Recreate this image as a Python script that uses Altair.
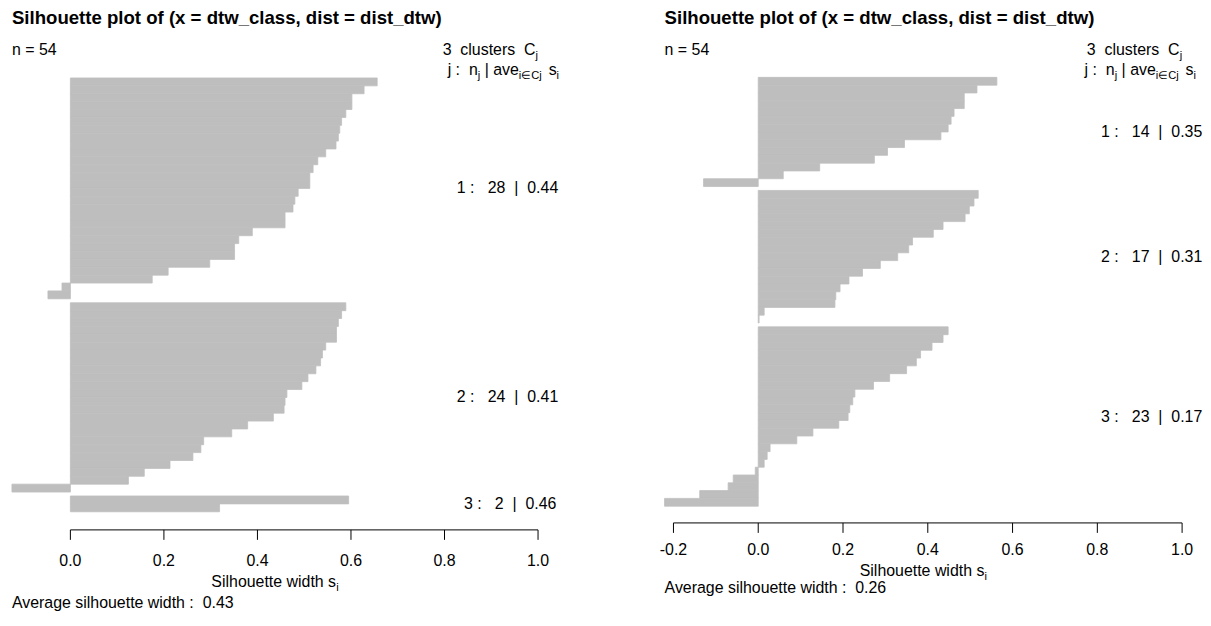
import altair as alt
import pandas as pd

# ---------------- data ----------------
title_text = "Silhouette plot of (x = dtw_class, dist = dist_dtw)"
n_total = 54

left_cluster1 = [0.656, 0.628, 0.602, 0.602, 0.589, 0.580, 0.576, 0.573, 0.568, 0.546,
                 0.529, 0.519, 0.512, 0.512, 0.487, 0.480, 0.476, 0.459, 0.459, 0.389,
                 0.360, 0.351, 0.351, 0.298, 0.209, 0.175, -0.018, -0.048]
left_cluster2 = [0.589, 0.580, 0.573, 0.569, 0.569, 0.546, 0.539, 0.535, 0.525, 0.508,
                 0.495, 0.463, 0.459, 0.457, 0.434, 0.379, 0.345, 0.285, 0.279, 0.262,
                 0.213, 0.158, 0.124, -0.125]
left_cluster3 = [0.595, 0.319]
left_cluster_avg = [0.44, 0.41, 0.46]
left_overall_avg = 0.43
left_x_ticks = [0.0, 0.2, 0.4, 0.6, 0.8, 1.0]

right_cluster1 = [0.563, 0.516, 0.486, 0.486, 0.462, 0.455, 0.448, 0.431, 0.345, 0.305,
                  0.274, 0.145, 0.059, -0.129]
right_cluster2 = [0.519, 0.509, 0.498, 0.488, 0.436, 0.413, 0.364, 0.355, 0.329, 0.288,
                  0.246, 0.214, 0.193, 0.183, 0.181, 0.014, 0.002]
right_cluster3 = [0.448, 0.436, 0.410, 0.383, 0.373, 0.350, 0.310, 0.272, 0.228, 0.223,
                  0.216, 0.212, 0.190, 0.129, 0.091, 0.028, 0.021, 0.014, -0.007, -0.059,
                  -0.071, -0.138, -0.221]
right_cluster_avg = [0.35, 0.31, 0.17]
right_overall_avg = 0.26
right_x_ticks = [-0.2, 0.0, 0.2, 0.4, 0.6, 0.8, 1.0]

# ---------------- styling / layout ----------------
FONT = "Liberation Sans"
BAR_COLOR = "#bebebe"
NB = "\u00a0"
BASE = 16.0
SUB = BASE * 0.7
TITLE_SIZE = 18.7

ARIAL = {" ": 278, NB: 278, ":": 278, "|": 260, ".": 278, "=": 584, "(": 333, ")": 333,
         "_": 556, ",": 278, "-": 333, "\u2208": 713, "A": 667, "C": 722, "S": 667,
         "a": 556, "b": 556, "c": 500, "d": 556, "e": 556, "f": 278, "g": 556, "h": 556,
         "i": 222, "j": 222, "k": 500, "l": 222, "m": 833, "n": 556, "o": 556, "p": 556,
         "q": 556, "r": 333, "s": 500, "t": 278, "u": 556, "v": 500, "w": 722, "x": 500,
         "y": 500, "z": 500}


def text_width(s, size):
    return sum(ARIAL.get(ch, 556) for ch in s) * size / 1000.0


def fmt2(v):
    return f"{v:.2f}"


def build_panel(clusters, cl_avgs, overall, ticks, geo):
    x0, W, zero, unit = geo["x0"], geo["W"], geo["zero"], geo["unit"]
    H, btop, bunit = geo["H"], geo["bar_top"], geo["bar_unit"]
    y0 = 8.0

    xscale = alt.Scale(domain=[(x0 - zero) / unit, (x0 + W - zero) / unit],
                       nice=False, zero=False)
    yscale = alt.Scale(domain=[(y0 - btop) / bunit, (y0 + H - btop) / bunit],
                       nice=False, zero=False, reverse=True)

    rows = []
    k = 0
    centers = []
    for c, vals in enumerate(clusters):
        us = []
        for v in vals:
            u0 = k + 0.5 * c
            rows.append({"s": v, "zero": 0.0, "u0": u0, "u1": u0 + 1.0})
            us.append(u0 + 0.5)
            k += 1
        centers.append(sum(us) / len(us))
    bars_df = pd.DataFrame(rows)
    all_vals = [v for vals in clusters for v in vals]
    smin = min(0.0, min(all_vals))

    def px(v):
        return zero + unit * v

    plot_left = px(smin)
    plot_right = px(1.0)

    def txt(s, xp, yp, size=BASE, bold=False, align="left", baseline="alphabetic"):
        return alt.Chart(pd.DataFrame({"t": [s]})).mark_text(
            align=align, baseline=baseline, font=FONT, fontSize=size,
            fontWeight="bold" if bold else "normal", color="black"
        ).encode(x=alt.value(xp - x0), y=alt.value(yp - y0), text="t:N")

    def seq(pieces, start, base):
        out = []
        xcur = start
        for s, sub in pieces:
            fs = SUB if sub else BASE
            core = s.strip(NB)
            lead = len(s) - len(s.lstrip(NB))
            xcur += text_width(NB * lead, fs)
            if core:
                out.append(txt(core, xcur, base + (4 if sub else 0), size=fs))
            xcur += text_width(s[lead:], fs)
        return out

    def seq_width(pieces):
        return sum(text_width(s, SUB if sub else BASE) for s, sub in pieces)

    layers = []
    bars = alt.Chart(bars_df).mark_rect(color=BAR_COLOR, stroke=BAR_COLOR,
                                        strokeWidth=0.8).encode(
        x=alt.X("s:Q", scale=xscale, axis=None),
        x2="zero:Q",
        y=alt.Y("u0:Q", scale=yscale, axis=None),
        y2="u1:Q",
    )
    layers.append(bars)

    # R-style axis: line between extreme ticks, ticks pointing down, labels below
    axis_line = alt.Chart(pd.DataFrame({"a": [min(ticks)], "b": [max(ticks)]})).mark_rule(
        color="black", strokeWidth=1
    ).encode(x=alt.X("a:Q", scale=xscale, axis=None), x2="b:Q", y=alt.value(H))
    layers.append(axis_line)

    tick_df = pd.DataFrame({"v": ticks, "lab": [f"{v:.1f}" for v in ticks]})
    layers.append(alt.Chart(tick_df).mark_rule(color="black", strokeWidth=1).encode(
        x=alt.X("v:Q", scale=xscale, axis=None), y=alt.value(H), y2=alt.value(H + 10)))
    layers.append(alt.Chart(tick_df).mark_text(
        align="center", baseline="alphabetic", font=FONT, fontSize=BASE, color="black"
    ).encode(x=alt.X("v:Q", scale=xscale, axis=None),
             y=alt.value(geo["tick_base"] - y0), text="lab:N"))

    # cluster labels (R: text(1, yj, adj = 0.8))
    for j, (vals, avg, cu) in enumerate(zip(clusters, cl_avgs, centers), start=1):
        lab = f"{j}{NB}:{NB*3}{len(vals)}{NB*2}|{NB*2}{fmt2(avg)}"
        w = text_width(lab, BASE)
        layers.append(
            alt.Chart(pd.DataFrame({"x": [1.0], "u": [cu], "t": [lab]})).mark_text(
                align="left", baseline="middle", font=FONT, fontSize=BASE, color="black",
                dx=-0.8 * w
            ).encode(x=alt.X("x:Q", scale=xscale, axis=None),
                     y=alt.Y("u:Q", scale=yscale, axis=None), text="t:N")
        )

    # title and header texts
    layers.append(txt(title_text, plot_left, geo["title_base"], size=TITLE_SIZE, bold=True))
    layers.append(txt(f"n{NB}={NB}{n_total}", plot_left, geo["n_base"]))

    h1 = [(f"{len(clusters)}{NB*2}clusters{NB*2}C", False), ("j", True)]
    layers += seq(h1, plot_right - seq_width(h1), geo["n_base"])

    h2 = [("j", False), (f"{NB}:{NB*2}", False), ("n", False), ("j", True),
          (f"{NB}|{NB}", False), ("ave", False), ("i\u2208Cj", True),
          (NB * 2, False), ("s", False), ("i", True)]
    right_end = min(plot_right + 0.04 * (plot_right - plot_left), 1202.0)
    layers += seq(h2, right_end - seq_width(h2), geo["h2_base"])

    xt = [(f"Silhouette{NB}width{NB}s", False), ("i", True)]
    layers += seq(xt, (plot_left + plot_right) / 2 - seq_width(xt) / 2, geo["xlab_base"])

    layers.append(txt(f"Average{NB}silhouette{NB}width{NB}:{NB*2}{fmt2(overall)}",
                      plot_left, geo["sub_base"]))

    return alt.layer(*layers).properties(width=W, height=H)


left_geo = dict(x0=8.0, W=572.0, zero=70.7, unit=470.0, H=523.0, bar_top=76.8,
                bar_unit=7.927, title_base=23.0, n_base=54.0, h2_base=74.0,
                tick_base=567.0, xlab_base=588.0, sub_base=609.0)
right_geo = dict(x0=650.0, W=553.0, zero=762.0, unit=426.0, H=516.0, bar_top=76.2,
                 bar_unit=7.836, title_base=23.0, n_base=54.0, h2_base=74.0,
                 tick_base=556.0, xlab_base=577.0, sub_base=594.0)

left = build_panel([left_cluster1, left_cluster2, left_cluster3], left_cluster_avg,
                   left_overall_avg, left_x_ticks, left_geo)
right = build_panel([right_cluster1, right_cluster2, right_cluster3], right_cluster_avg,
                    right_overall_avg, right_x_ticks, right_geo)

chart = alt.hconcat(left, right, spacing=70).properties(padding=0).configure_view(
    strokeWidth=0)

chart.save("out.html", embed_options={"renderer": "svg", "actions": False})
